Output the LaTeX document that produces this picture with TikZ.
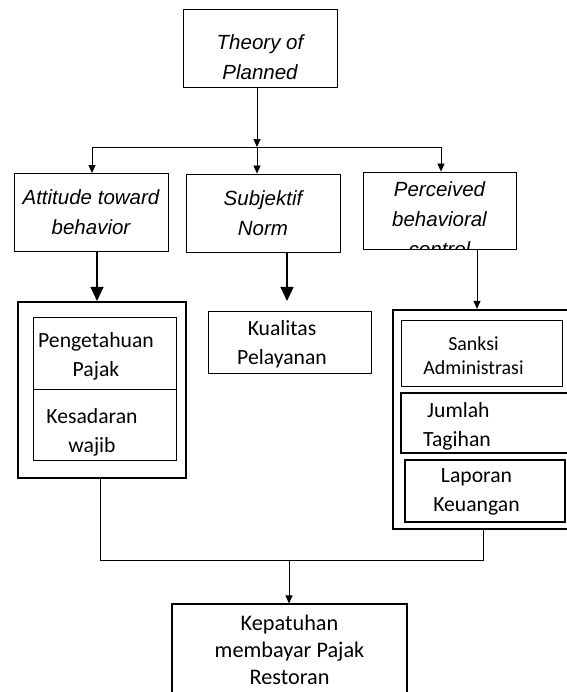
\documentclass[tikz,border=0pt]{standalone}
\usepackage{fontspec}
\setmainfont{Carlito}
\newfontfamily\arialfont{Liberation Sans}
\usetikzlibrary{arrows.meta}
\newlength\px
\setlength\px{0.03cm}
\tikzstyle{tbox}=[rectangle,draw=black,line width=0.8pt,inner sep=0pt,
  minimum width=154\px,minimum height=78\px]
\tikzstyle{ttext}=[align=center,inner sep=0pt,
  font=\arialfont\itshape\fontsize{17.5}{25.5}\selectfont]
\tikzstyle{vbox}=[rectangle,draw=black,line width=0.7pt,inner sep=0pt]
\tikzstyle{vtext}=[align=center,inner sep=0pt,font=\fontsize{18.5}{25}\selectfont]
\tikzstyle{sarr}=[line width=0.6pt,-{Triangle[length=6.8pt,width=6pt]}]
\tikzstyle{barr}=[line width=1.5pt,-{Triangle[length=12pt,width=11pt]}]

\begin{document}
\begin{tikzpicture}[x=1\px,y=-1\px]
        \useasboundingbox (0,0) rectangle (567,692);
        \clip (0,0) rectangle (567,692);
        % top level
        \node [style=tbox] (tpb) at (260,48.5) {};
        \node [style=ttext] (tpbtext) at (260,57) {Theory of\\Planned};
        \node [style=tbox,style=ttext,inner sep=0pt] (att) at (91,212.5) {Attitude toward\\behavior};
        \node [style=tbox,style=ttext,inner sep=0pt] (sn) at (263,213) {Subjektif\\Norm};
        \node [style=tbox,minimum width=153\px,minimum height=77\px] (pbc) at (439.5,210.5) {};
        \begin{scope}
            \clip (pbc.south west) rectangle (pbc.north east);
            \node [style=ttext] (pbctext) at (439.5,219) {Perceived\\behavioral\\control};
        \end{scope}
        % left group
        \node [style=vbox,line width=1.2pt,minimum width=168\px,minimum height=176\px] (outL) at (102,390) {};
        \node [style=vbox,minimum width=143\px,minimum height=72\px] (peng) at (104.5,353) {};
        \node [style=vtext] (pengtext) at (96,356) {Pengetahuan\\Pajak};
        \node [style=vbox,minimum width=143\px,minimum height=71\px] (kes) at (104.5,424.5) {};
        \node [style=vtext] (kestext) at (92,432) {Kesadaran\\wajib};
        % middle
        \node [style=vbox,minimum width=163\px,minimum height=62\px] (kual) at (289.5,342) {};
        \node [style=vtext] (kualtext) at (282,344.5) {Kualitas\\Pelayanan};
        % right group
        \node [style=vbox,line width=2pt,minimum width=200\px,minimum height=219\px] (outR) at (493,419.5) {};
        \node [style=vbox,line width=0.6pt,minimum width=161\px,minimum height=66\px] (sanksi) at (481.5,353) {};
        \node [style=vtext,font=\fontsize{17}{20.5}\selectfont] (sanksitext) at (473.5,356) {Sanksi\\Administrasi};
        \node [style=vbox,line width=1.6pt,minimum width=179\px,minimum height=60\px] (jumlah) at (490.5,423) {};
        \node [style=vtext,align=left,anchor=west] (jumlahtext) at (423,426) {\hspace{4\px}Jumlah\\Tagihan};
        \node [style=vbox,line width=1.6pt,minimum width=160\px,minimum height=62\px] (lapor) at (485,491) {};
        \node [style=vtext] (laportext) at (476.5,492) {Laporan\\Keuangan};
        % bottom
        \node [style=vbox,line width=1pt,minimum width=235\px,minimum height=92\px] (kep) at (289.5,650) {};
        \node [style=vtext,font=\fontsize{19}{23}\selectfont] (keptext) at (289.5,650) {Kepatuhan\\membayar Pajak\\Restoran};
        % connectors
        \coordinate (hl) at (92,147);
        \coordinate (hm) at (257,147);
        \coordinate (hr) at (441,147);
        \draw [style=sarr] (tpb.south -| hm) to (hm);
        \draw [line width=0.7pt] (hl) to (hr);
        \draw [style=sarr] (hl) to (hl |- att.north);
        \draw [style=sarr] (hm) to (hm |- sn.north);
        \draw [style=sarr] (hr) to (hr |- pbc.north);
        \coordinate (al) at (97,301);
        \coordinate (as) at (287,301);
        \coordinate (ap) at (477,309);
        \draw [style=barr] (att.south -| al) to (al);
        \draw [style=barr] (sn.south -| as) to (as);
        \draw [style=sarr] (pbc.south -| ap) to (ap |- outR.north);
        \coordinate (jl) at (100,560);
        \coordinate (jm) at (289,560);
        \coordinate (jr) at (483,560);
        \draw [line width=0.8pt] (outL.south -| jl) -- (jl) -- (jr) -- (jr |- outR.south);
        \draw [style=sarr] (jm) to (jm |- kep.north);
    \end{tikzpicture}
\end{document}
